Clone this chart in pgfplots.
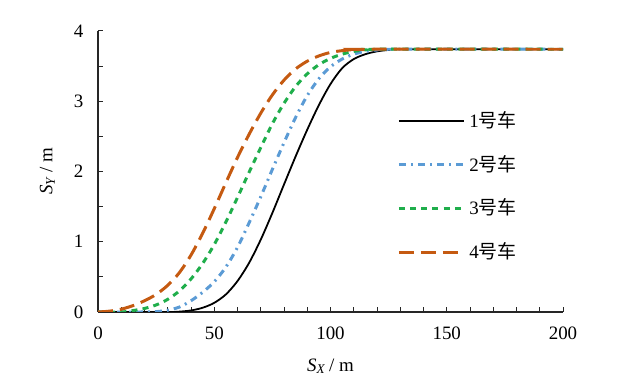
\documentclass[border=0pt]{standalone}
\usepackage{fontspec}
\setmainfont{Liberation Serif}
\newfontfamily\cjk{Noto Sans CJK SC}
\usepackage{pgfplots}
\pgfplotsset{compat=1.18}
\definecolor{cblue}{HTML}{5B9BD5}
\definecolor{cgreen}{HTML}{1FAE4B}
\definecolor{corange}{HTML}{C55A11}
\begin{document}
\fontsize{9.5}{11}\selectfont
\begin{tikzpicture}
\begin{axis}[
  name=ax,
  scale only axis,
  width=232.5bp, height=140.5bp,
  xmin=0, xmax=200, ymin=0, ymax=4,
  axis x line*=bottom, axis y line*=left,
  axis line style={black!85, line width=0.6pt},
  xtick={0,50,...,200}, minor xtick={10,20,...,190},
  ytick={0,1,...,4}, minor ytick={0.5,1.5,...,3.5},
  tick align=inside,
  major tick length=2.5bp, minor tick length=2.5bp,
  tick style={black!85, line width=0.5pt},
  /pgf/number format/assume math mode=true,
  tick label style={font=\fontsize{9.5}{11}\selectfont},
  xticklabel style={yshift=-4bp},
  yticklabel style={xshift=-4bp},
  xlabel={\textit{S}\textsubscript{\textit{X}}\,/ m},
  ylabel={\textit{S}\textsubscript{\textit{Y}}\,/ m},
  label style={font=\fontsize{9.5}{11}\selectfont},
  xlabel style={yshift=-3bp},
  ylabel style={yshift=3bp},
  legend style={draw=none, fill=none, at={(0.643,0.73)}, anchor=north west,
    row sep=8.5bp, font=\fontsize{9.5}{11}\selectfont, inner sep=0pt,
    legend cell align=left},
  legend image code/.code={\draw[#1] (0bp,0bp) -- (32.5bp,0bp);},
  every axis plot/.append style={smooth, tension=0.5},
]
\addplot[black, line width=0.9pt] coordinates {
(0,0) (30,0) (35,0.005) (40,0.022) (45,0.06) (50,0.13) (55,0.25) (60,0.44) (65,0.70) (70,1.03)
(75,1.41) (80,1.815) (85,2.215) (90,2.595) (95,2.945) (100,3.245) (105,3.47) (110,3.60)
(115,3.67) (120,3.71) (125,3.73) (130,3.74) (200,3.74)};
\addlegendentry{1{\cjk 号车}}
\addplot[cblue, line width=1.5pt, dash pattern=on 3.5bp off 2.5bp on 1bp off 2.5bp] coordinates {
(0,0) (20,0) (25,0.005) (30,0.025) (35,0.07) (40,0.16) (45,0.28) (50,0.43) (55,0.64) (60,0.92)
(65,1.27) (70,1.64) (75,2.03) (80,2.41) (85,2.77) (90,3.08) (95,3.32) (100,3.49) (105,3.60)
(110,3.67) (115,3.71) (120,3.73) (125,3.74) (200,3.74)};
\addlegendentry{2{\cjk 号车}}
\addplot[cgreen, line width=1.5pt, dash pattern=on 3bp off 2.6bp] coordinates {
(0,0) (10,0) (15,0.02) (20,0.05) (25,0.10) (30,0.18) (35,0.30) (40,0.47) (45,0.69) (50,0.96)
(55,1.28) (60,1.63) (65,1.99) (70,2.34) (75,2.68) (80,2.97) (85,3.21) (90,3.39) (95,3.52)
(100,3.61) (105,3.67) (110,3.71) (115,3.73) (120,3.74) (200,3.74)};
\addlegendentry{3{\cjk 号车}}
\addplot[corange, line width=1.5pt, dash pattern=on 7.5bp off 3.5bp] coordinates {
(0,0) (5,0.012) (10,0.04) (15,0.09) (20,0.16) (25,0.25) (30,0.38) (35,0.56) (40,0.81) (45,1.12)
(50,1.47) (55,1.84) (60,2.20) (65,2.53) (70,2.83) (75,3.09) (80,3.30) (85,3.46) (90,3.57)
(95,3.645) (100,3.695) (105,3.72) (110,3.735) (115,3.74) (200,3.74)};
\addlegendentry{4{\cjk 号车}}
\end{axis}
\pgfresetboundingbox
\path ([xshift=-49bp,yshift=-33.5bp]ax.south west) rectangle ([xshift=30.5bp,yshift=15.5bp]ax.north east);
\end{tikzpicture}
\end{document}
